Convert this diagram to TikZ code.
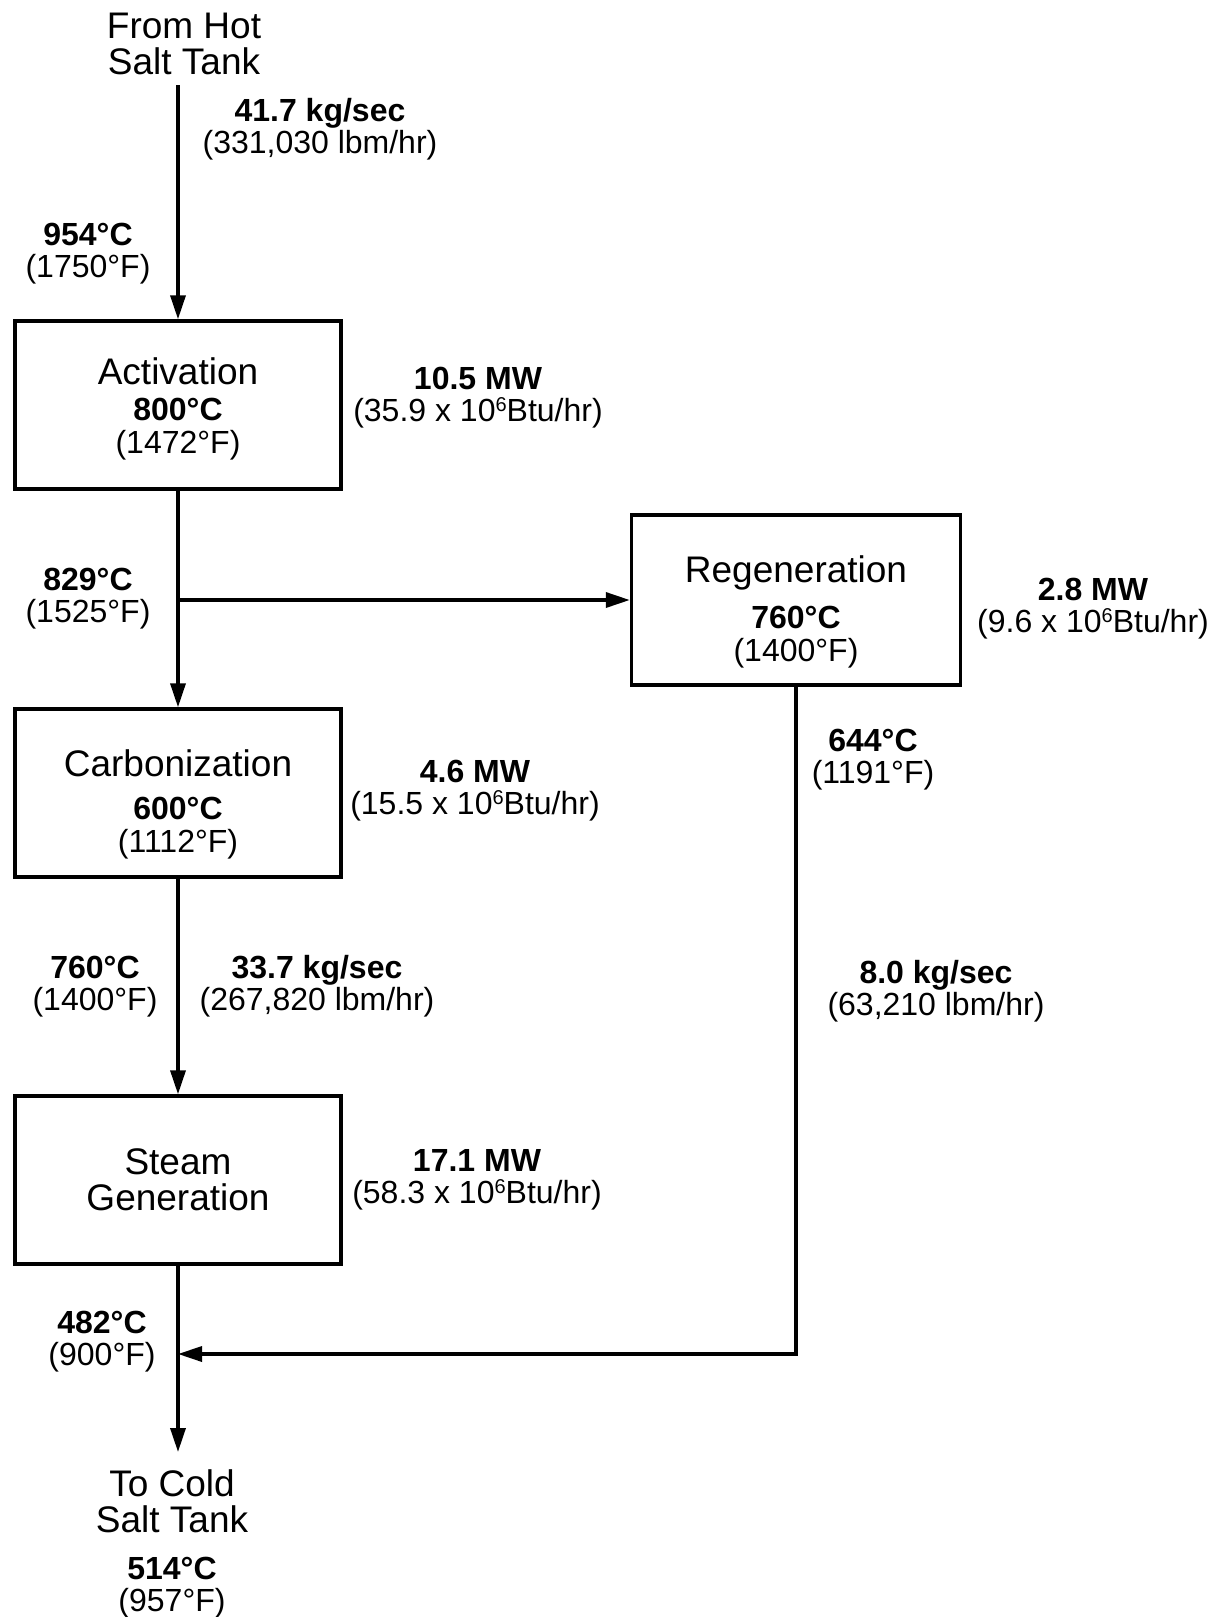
\documentclass[tikz,border=0pt]{standalone}
\usepackage{fontspec}
\setmainfont{Liberation Sans}
\usetikzlibrary{arrows.meta}
\newcommand{\boxname}[2]{{\fontsize{18.5}{18}\selectfont\rule{0pt}{#1}#2}}
\newcommand{\supsix}{\raisebox{0.32em}{\fontsize{10}{10}\selectfont 6}}
\begin{document}
\begin{tikzpicture}[x=0.5pt, y=-0.5pt, line width=1.7pt, >={Triangle[length=12pt,width=7.5pt]},
    main/.style = {draw, rectangle, minimum width=163pt, minimum height=84pt, align=center, inner sep=0pt, font=\fontsize{16}{16.5}\selectfont},
    big/.style = {align=center, inner sep=1pt, font=\fontsize{18.5}{18}\selectfont},
    lab/.style = {align=center, inner sep=0pt, font=\fontsize{16}{16}\selectfont}]
    \useasboundingbox (0,0) rectangle (1225,1617);
    % boxes
    \node[big] (hot) at (184,44) {From Hot\\Salt Tank};
    \node[main] (act) at (178,405) {\boxname{17.5pt}{Activation}\\[1.5pt]\textbf{800°C}\\(1472°F)};
    \node[main, minimum width=164.5pt, minimum height=85pt] (regen) at (796,600) {\boxname{25pt}{Regeneration}\\[6.5pt]\textbf{760°C}\\(1400°F)};
    \node[main] (carb) at (178,793) {\boxname{25pt}{Carbonization}\\[5pt]\textbf{600°C}\\(1112°F)};
    \node[main, font=\fontsize{18.5}{18}\selectfont] (steam) at (178,1180) {Steam\\Generation};
    \node[big] (cold) at (172,1501) {To Cold\\Salt Tank};
    \node[lab] (tcold) at (172,1588) {\textbf{514°C}\\(957°F)};
    \coordinate (top) at (178,85);
    \coordinate (bot) at (178,1452);
    \coordinate (merge) at (178,1354);
    % flows
    \draw[->] (top) -- (act);
    \draw[->] (act) -- (carb);
    \draw[->] (act.south |- regen.west) -- (regen.west);
    \draw[->] (carb) -- (steam);
    \draw[->] (steam) -- (bot);
    \draw[->] (regen.south) |- (merge);
    % labels
    \node[lab] (flowin) at (320,129) {\textbf{41.7 kg/sec}\\(331,030 lbm/hr)};
    \node[lab] (tin) at (88,254) {\textbf{954°C}\\(1750°F)};
    \node[lab] (qact) at (478,398) {\textbf{10.5 MW}\\(35.9 x 10\supsix Btu/hr)};
    \node[lab] (tact) at (88,599) {\textbf{829°C}\\(1525°F)};
    \node[lab] (qregen) at (1093,609) {\textbf{2.8 MW}\\(9.6 x 10\supsix Btu/hr)};
    \node[lab] (tregen) at (873,760) {\textbf{644°C}\\(1191°F)};
    \node[lab] (flowregen) at (936,991) {\textbf{8.0 kg/sec}\\(63,210 lbm/hr)};
    \node[lab] (qcarb) at (475,791) {\textbf{4.6 MW}\\(15.5 x 10\supsix Btu/hr)};
    \node[lab] (tcarb) at (95,987) {\textbf{760°C}\\(1400°F)};
    \node[lab] (flowcarb) at (317,986) {\textbf{33.7 kg/sec}\\(267,820 lbm/hr)};
    \node[lab] (qsteam) at (477,1180) {\textbf{17.1 MW}\\(58.3 x 10\supsix Btu/hr)};
    \node[lab] (tsteam) at (102,1342) {\textbf{482°C}\\(900°F)};
\end{tikzpicture}
\end{document}
